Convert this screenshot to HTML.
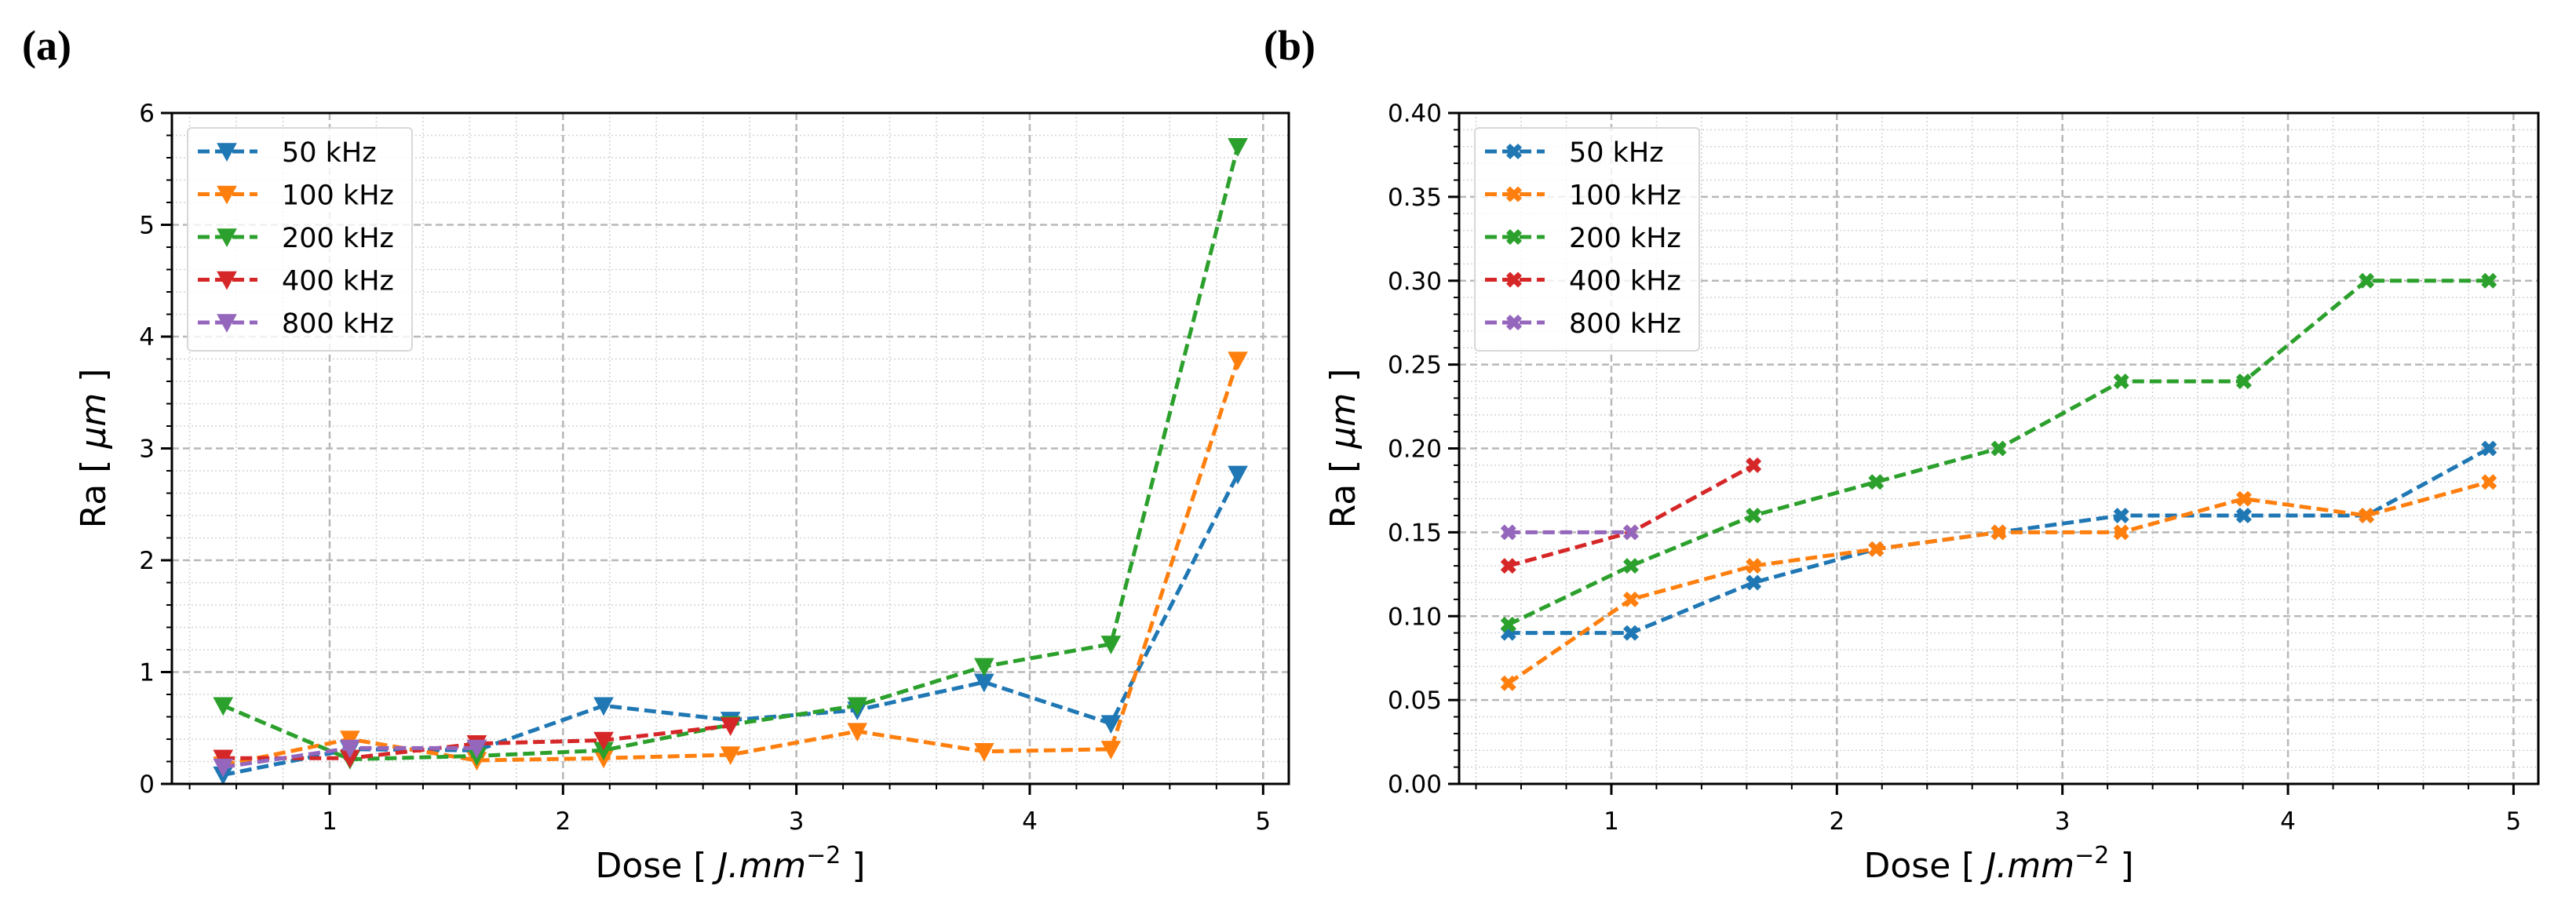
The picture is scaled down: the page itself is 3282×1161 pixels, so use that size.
<!DOCTYPE html>
<html><head><meta charset="utf-8">
<style>
html,body{margin:0;padding:0;background:#fff;}
svg{display:block;}
text{font-family:"DejaVu Sans","Liberation Sans",sans-serif;}
.pl{font-family:"Liberation Serif",serif;font-weight:bold;}
</style></head>
<body>
<svg id="fig" width="3282" height="1161" viewBox="0 0 3282 1161" xmlns="http://www.w3.org/2000/svg">
<rect width="3282" height="1161" fill="#fff"/>
<text class="pl" x="28" y="76" font-size="54">(a)</text>
<text class="pl" x="1610" y="76" font-size="54">(b)</text>
</svg>
<script>
// shared data
const doses = [0.5435, 1.087, 1.6305, 2.174, 2.7175, 3.261, 3.8045, 4.348, 4.8915];
const seriesNames = ['50 kHz', '100 kHz', '200 kHz', '400 kHz', '800 kHz'];
const colors = ['#1f77b4', '#ff7f0e', '#2ca02c', '#d62728', '#9467bd'];
// panel a values
const a50 = [0.08, 0.31, 0.30, 0.70, 0.57, 0.66, 0.91, 0.54, 2.77];
const a100 = [0.17, 0.40, 0.21, 0.23, 0.26, 0.47, 0.29, 0.31, 3.79];
const a200 = [0.70, 0.22, 0.25, 0.30, 0.53, 0.70, 1.05, 1.25, 5.70];
const a400 = [0.23, 0.23, 0.36, 0.39, 0.52];
const a800 = [0.15, 0.32, 0.32];
// panel b values
const b50 = [0.09, 0.09, 0.12, 0.14, 0.15, 0.16, 0.16, 0.16, 0.20];
const b100 = [0.06, 0.11, 0.13, 0.14, 0.15, 0.15, 0.17, 0.16, 0.18];
const b200 = [0.095, 0.13, 0.16, 0.18, 0.20, 0.24, 0.24, 0.30, 0.30];
const b400 = [0.13, 0.15, 0.19];
const b800 = [0.15, 0.15];
// ticks
const xTicks = [1, 2, 3, 4, 5];
const aYTicks = [0, 1, 2, 3, 4, 5, 6];
const aYTickLabels = ['0', '1', '2', '3', '4', '5', '6'];
const bYTicks = [0, 0.05, 0.10, 0.15, 0.20, 0.25, 0.30, 0.35, 0.40];
const bYTickLabels = ['0.00', '0.05', '0.10', '0.15', '0.20', '0.25', '0.30', '0.35', '0.40'];

const NS = 'http://www.w3.org/2000/svg';
const svg = document.getElementById('fig');
function mk(tag, attrs, parent) {
  const e = document.createElementNS(NS, tag);
  for (const k in attrs) e.setAttribute(k, attrs[k]);
  (parent || svg).appendChild(e);
  return e;
}

function marker(g, shape, cx, cy, color) {
  let m;
  if (shape === 'tri') {
    const s = 12;
    m = mk('polygon', {points: `${cx-s},${cy-s*0.85} ${cx+s},${cy-s*0.85} ${cx},${cy+s*1.0}`, fill: color, stroke: color, 'stroke-width': 1}, g);
  } else {
    const a = 9, w = 4;
    const pts = [[-a,-a+w],[-a+w,-a],[0,-w],[a-w,-a],[a,-a+w],[w,0],[a,a-w],[a-w,a],[0,w],[-a+w,a],[-a,a-w],[-w,0]];
    m = mk('polygon', {points: pts.map(p => (cx+p[0]) + ',' + (cy+p[1])).join(' '), fill: color, stroke: color, 'stroke-width': 1.5, 'stroke-linejoin': 'round'}, g);
  }
  return m;
}

function panel(cfg) {
  const {id, L, R, T, B, xmin, xmax, ymin, ymax, yTicks, yLabels, yMinorStep, series, shape, legendX, labelX} = cfg;
  const g = mk('g', {});
  
  
  const sx = v => L + (v - xmin) / (xmax - xmin) * (R - L);
  const sy = v => B - (v - ymin) / (ymax - ymin) * (B - T);
  // minor grid
  const grid = mk('g', {}, g);
  
  
  for (let v = 0.2; v < xmax; v += 0.2) {
    if (v < xmin) continue;
    if (Math.abs(v - Math.round(v)) < 1e-6) continue;
    mk('line', {x1: sx(v), x2: sx(v), y1: T, y2: B, stroke: '#d4d4d4', 'stroke-width': 1.6, 'stroke-dasharray': '2,3'}, grid);
  }
  const nMinor = Math.round((ymax - ymin) / yMinorStep);
  for (let i = 1; i < nMinor; i++) {
    const v = ymin + i * yMinorStep;
    if (i % 5 === 0) continue;
    mk('line', {x1: L, x2: R, y1: sy(v), y2: sy(v), stroke: '#d4d4d4', 'stroke-width': 1.6, 'stroke-dasharray': '2,3'}, grid);
  }
  // major grid
  xTicks.forEach(v => mk('line', {x1: sx(v), x2: sx(v), y1: T, y2: B, stroke: '#b8b8b8', 'stroke-width': 2.5, 'stroke-dasharray': '9,5'}, grid));
  yTicks.forEach(v => mk('line', {x1: L, x2: R, y1: sy(v), y2: sy(v), stroke: '#b8b8b8', 'stroke-width': 2.5, 'stroke-dasharray': '9,5'}, grid));
  // series
  series.forEach((vals, si) => {
    const sg = mk('g', {}, g);
    
    
    const pts = vals.map((v, i) => sx(doses[i]) + ',' + sy(v)).join(' ');
    mk('polyline', {points: pts, fill: 'none', stroke: colors[si], 'stroke-width': 5, 'stroke-dasharray': '15,7'}, sg);
    vals.forEach((v, i) => {
      const m = marker(sg, shape, sx(doses[i]), sy(v), colors[si]);
      
      
    });
  });
  // spines
  const sp = mk('rect', {x: L, y: T, width: R - L, height: B - T, fill: 'none', stroke: '#000', 'stroke-width': 3}, g);
  
  
  // x ticks
  for (let v = 0.4; v < xmax; v += 0.2) {
    const major = Math.abs(v - Math.round(v)) < 1e-6;
    mk('line', {x1: sx(v), x2: sx(v), y1: B, y2: B + (major ? 14 : 7), stroke: '#000', 'stroke-width': major ? 3 : 2}, g);
  }
  xTicks.forEach(v => {
    const t = mk('text', {x: sx(v), y: 1057, 'font-size': 31, 'text-anchor': 'middle'}, g);
    t.textContent = String(v);
    
    
  });
  // y ticks
  for (let i = 0; i <= nMinor; i++) {
    const v = ymin + i * yMinorStep;
    const major = i % 5 === 0;
    mk('line', {x1: L, x2: L - (major ? 14 : 7), y1: sy(v), y2: sy(v), stroke: '#000', 'stroke-width': major ? 3 : 2}, g);
  }
  yTicks.forEach((v, i) => {
    const t = mk('text', {x: L - 22, y: sy(v) + 11, 'font-size': 31, 'text-anchor': 'end'}, g);
    t.textContent = yLabels[i];
    
    
  });
  // axis labels
  const xl = mk('text', {x: (L + R) / 2, y: 1118, 'font-size': 44, 'text-anchor': 'middle'}, g);
  xl.innerHTML = 'Dose [ <tspan font-style="italic">J.mm</tspan><tspan font-size="30" dy="-18">−2</tspan><tspan dy="18"> ]</tspan>';
  
  
  const yl = mk('text', {x: 0, y: 0, 'font-size': 44, 'text-anchor': 'middle', transform: `translate(${labelX},${(T + B) / 2}) rotate(-90)`}, g);
  yl.innerHTML = 'Ra [ <tspan font-style="italic">μm</tspan> ]';
  
  
  // legend
  const lg = mk('g', {}, g);
  
  
  mk('rect', {x: legendX, y: 163, width: 286, height: 284, rx: 5, fill: 'rgba(255,255,255,0.8)', stroke: '#d8d8d8', 'stroke-width': 2}, lg);
  seriesNames.forEach((n, i) => {
    const y = 193 + i * 54.5;
    const e = mk('g', {}, lg);
    
    
    mk('line', {x1: legendX + 13, x2: legendX + 89, y1: y, y2: y, stroke: colors[i], 'stroke-width': 5, 'stroke-dasharray': '15,7'}, e);
    marker(e, shape, legendX + 50, y, colors[i]);
    const t = mk('text', {x: legendX + 120, y: y + 13, 'font-size': 35}, e);
    t.textContent = n;
  });
}

panel({id: 'panel-a', L: 219, R: 1642, T: 144, B: 999, xmin: 0.324, xmax: 5.11, ymin: 0, ymax: 6,
  yTicks: aYTicks, yLabels: aYTickLabels, yMinorStep: 0.2, series: [a50, a100, a200, a400, a800], shape: 'tri', legendX: 239, labelX: 134});
panel({id: 'panel-b', L: 1859, R: 3234, T: 144, B: 999, xmin: 0.325, xmax: 5.11, ymin: 0, ymax: 0.4,
  yTicks: bYTicks, yLabels: bYTickLabels, yMinorStep: 0.01, series: [b50, b100, b200, b400, b800], shape: 'x', legendX: 1879, labelX: 1726});
</script>
</body></html>
